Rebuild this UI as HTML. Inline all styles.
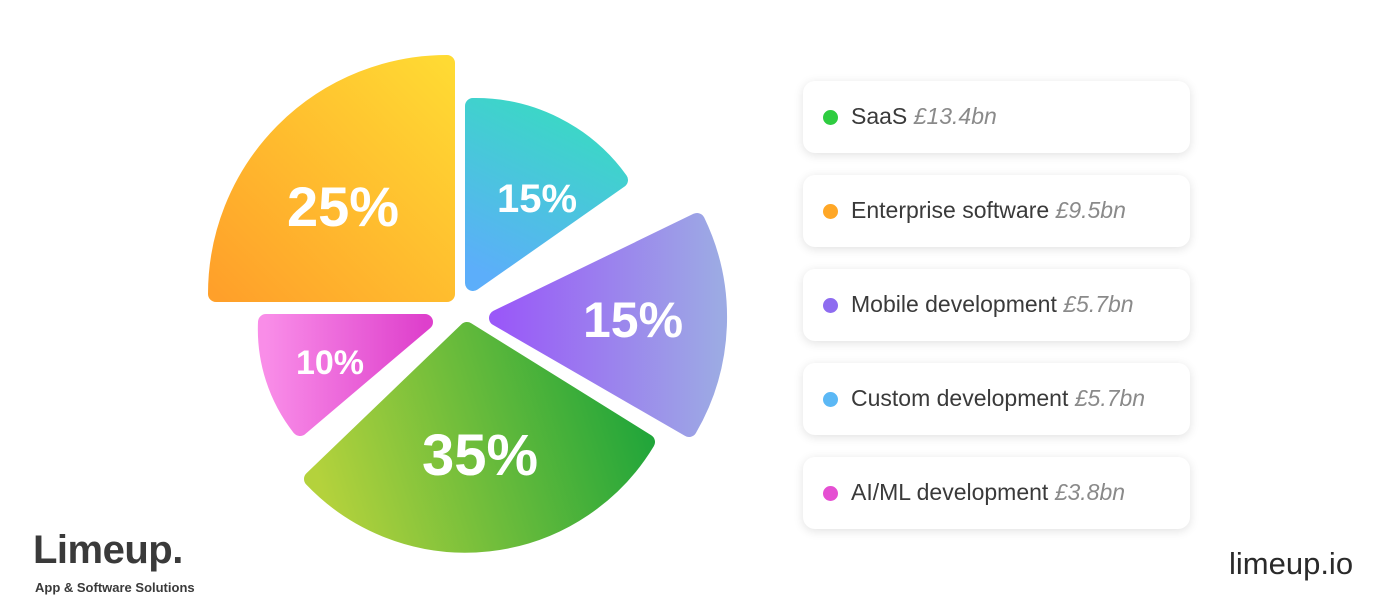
<!DOCTYPE html>
<html><head><meta charset="utf-8"><style>
body{margin:0;width:1400px;height:614px;background:#fff;position:relative;overflow:hidden;font-family:"Liberation Sans",sans-serif}
.box{position:absolute;left:803px;width:387px;height:72px;background:#fff;border-radius:12px;box-shadow:0 2px 10px rgba(0,0,0,0.12);}
.box .d{position:absolute;left:20px;top:29px;width:15px;height:15px;border-radius:50%}
.box .t{position:absolute;left:48px;top:22px;font-size:23px;color:#3a3a3a;white-space:nowrap}
.box .t i{color:#8a8a8a}
</style></head><body>
<svg width="1400" height="614" style="position:absolute;left:0;top:0">
<defs>
<linearGradient id="go" x1="0" y1="1" x2="1" y2="0"><stop offset="0" stop-color="#FFA02A"/><stop offset="1" stop-color="#FFDA33"/></linearGradient>
<linearGradient id="gt" x1="0.6" y1="0" x2="0.2" y2="1"><stop offset="0" stop-color="#3AD9C4"/><stop offset="1" stop-color="#5CAEFA"/></linearGradient>
<linearGradient id="gp" x1="0" y1="0" x2="1" y2="0"><stop offset="0" stop-color="#9A58F8"/><stop offset="1" stop-color="#9CAAE4"/></linearGradient>
<linearGradient id="gg" x1="0" y1="0.6" x2="1" y2="0.4"><stop offset="0" stop-color="#B4D23C"/><stop offset="1" stop-color="#20A53A"/></linearGradient>
<linearGradient id="gk" x1="0" y1="0" x2="1" y2="0"><stop offset="0" stop-color="#F98DE8"/><stop offset="1" stop-color="#DE40CC"/></linearGradient>
</defs>
<g stroke-width="16" stroke-linejoin="round">
<path d="M447,294 L216,294 A231 231 0 0 1 447,63 Z" fill="url(#go)" stroke="url(#go)"/>
<path d="M473,283 L473,106 A178 178 0 0 1 620,180 Z" fill="url(#gt)" stroke="url(#gt)"/>
<path d="M497,318 L697,221 A222 222 0 0 1 689,429 Z" fill="url(#gp)" stroke="url(#gp)"/>
<path d="M467,330 L647,442 A212 212 0 0 1 312,479 Z" fill="url(#gg)" stroke="url(#gg)"/>
<path d="M425,322 L300,428 A160 160 0 0 1 266,322 Z" fill="url(#gk)" stroke="url(#gk)"/>
</g>
<g fill="#fff" font-family="Liberation Sans, sans-serif" font-weight="bold" text-anchor="middle">
<text x="343" y="226" font-size="56">25%</text>
<text x="537" y="212" font-size="40">15%</text>
<text x="633" y="337" font-size="50">15%</text>
<text x="330" y="374" font-size="34">10%</text>
<text x="480" y="475" font-size="58">35%</text>
</g>
</svg>
<div class="box" style="top:81px"><div class="d" style="background:#2ECC40"></div><div class="t">SaaS <i>£13.4bn</i></div></div>
<div class="box" style="top:175px"><div class="d" style="background:#FFA726"></div><div class="t">Enterprise software <i>£9.5bn</i></div></div>
<div class="box" style="top:269px"><div class="d" style="background:#8E6CF0"></div><div class="t">Mobile development <i>£5.7bn</i></div></div>
<div class="box" style="top:363px"><div class="d" style="background:#5BB8F5"></div><div class="t">Custom development <i>£5.7bn</i></div></div>
<div class="box" style="top:457px"><div class="d" style="background:#E54FD2"></div><div class="t">AI/ML development <i>£3.8bn</i></div></div>
<div style="position:absolute;left:33px;top:528px;font-size:40px;font-weight:bold;color:#3a3a3a;letter-spacing:-0.5px">Limeup.</div>
<div style="position:absolute;left:35px;top:580px;font-size:13px;font-weight:bold;color:#3a3a3a">App &amp; Software Solutions</div>
<div style="position:absolute;left:1229px;top:546px;font-size:31px;color:#2a2a2a">limeup.io</div>
</body></html>
